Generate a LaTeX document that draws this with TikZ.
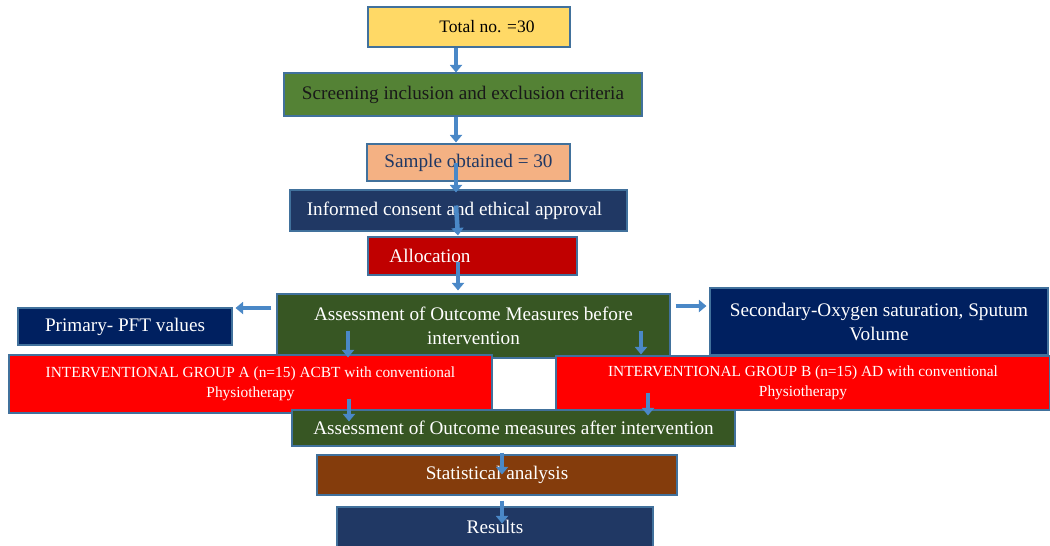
\documentclass[tikz,border=0pt]{standalone}
\usepackage{fontspec}
\setmainfont{Liberation Serif}
\usetikzlibrary{arrows.meta,calc}
\definecolor{cyellow}{HTML}{FFD966}
\definecolor{cgreen}{HTML}{548235}
\definecolor{csalmon}{HTML}{F4B183}
\definecolor{cnavy}{HTML}{203864}
\definecolor{cdnavy}{HTML}{002060}
\definecolor{cdred}{HTML}{C00000}
\definecolor{cdgreen}{HTML}{375623}
\definecolor{cred}{HTML}{FF0000}
\definecolor{cbrown}{HTML}{843C0C}
\definecolor{cborder}{HTML}{41719C}
\definecolor{carrow}{HTML}{4A88C7}
\definecolor{ctext}{HTML}{1F3864}
\tikzset{
  box/.style={draw=cborder, line width=1.1pt, rectangle, inner sep=0pt, align=center,
    font=\fontsize{19.2}{24}\selectfont, text=white},
  smallbox/.style={box, font=\fontsize{15.4}{20}\selectfont},
  barrow/.style={draw=carrow, line width=4.5pt, -{Triangle[width=12pt,length=7.5pt]}},
}
\begin{document}
\begin{tikzpicture}[x=1pt,y=-1pt]
\useasboundingbox (0,0) rectangle (1050,546);
\node[box, fill=cyellow, text=black, font=\fontsize{17.5}{20}\selectfont, minimum width=202pt, minimum height=40pt] (total) at (469,27) {\hspace*{36pt}Total no. =30};
\node[box, fill=cgreen, text=black!90, minimum width=358pt, minimum height=43pt] (screen) at (463,94.5) {Screening inclusion and exclusion criteria};
\node[box, fill=csalmon, text=ctext, minimum width=203pt, minimum height=37pt] (sample) at (468.5,162.5) {Sample obtained = 30};
\node[box, fill=cnavy, minimum width=337pt, minimum height=41pt] (consent) at (458.5,210.5) {Informed consent and ethical approval\hspace*{8pt}};
\node[box, fill=cdred, minimum width=209pt, minimum height=38pt] (alloc) at (472.5,256) {Allocation\hspace*{85pt}};
\node[box, fill=cdgreen, minimum width=393pt, minimum height=64pt] (before) at (473.5,326) {Assessment of Outcome Measures before\\intervention};
\node[box, fill=cdnavy, minimum width=214pt, minimum height=37pt] (primary) at (125,326.5) {Primary- PFT values};
\node[box, fill=cdnavy, minimum width=338pt, minimum height=67pt] (secondary) at (879,321.5) {Secondary-Oxygen saturation, Sputum\\Volume};
\node[smallbox, fill=cred, minimum width=483pt, minimum height=58pt] (grpA) at (250.5,384) {INTERVENTIONAL GROUP A (n=15) ACBT with conventional\\Physiotherapy};
\node[smallbox, fill=cred, minimum width=494pt, minimum height=54pt] (grpB) at (803,383) {INTERVENTIONAL GROUP B (n=15) AD with conventional\\Physiotherapy};
\node[box, fill=white, minimum width=64pt, minimum height=52pt] (gap) at (524,384) {};
\node[box, fill=cdgreen, minimum width=443pt, minimum height=36pt] (after) at (513.5,428) {Assessment of Outcome measures after intervention};
\node[box, fill=cbrown, minimum width=360pt, minimum height=40pt] (stat) at (497,475) {Statistical analysis};
\node[box, fill=cnavy, minimum width=316pt, minimum height=40pt] (results) at (495,527) {Results};

\draw[barrow] ([xshift=-13pt]total.south) -- ([xshift=-7pt]screen.north);
\draw[barrow] ([xshift=-7pt]screen.south) -- ([xshift=-12.5pt,yshift=1pt]sample.north);
\draw[barrow] ([xshift=-12.5pt]sample.center) -- ([xshift=-2.5pt,yshift=-3pt]consent.north);
\draw[barrow] ([xshift=-2.5pt,yshift=5pt]consent.center) -- ([xshift=-14.5pt,yshift=1pt]alloc.north);
\draw[barrow] ([xshift=-14.5pt,yshift=-6pt]alloc.center) -- ([xshift=-15.5pt,yshift=3pt]before.north);
\draw[barrow] ([xshift=-125.5pt,yshift=28pt]before.south) -- ([xshift=97.5pt,yshift=-3pt]grpA.north);
\draw[barrow] ([xshift=167.5pt,yshift=28pt]before.south) -- ([xshift=-162pt,yshift=1pt]grpB.north);
\draw[barrow] ([xshift=98.5pt,yshift=15pt]grpA.south) -- ([xshift=-164.5pt,yshift=-12pt]after.north);
\draw[barrow] ([xshift=-155pt,yshift=18pt]grpB.south) -- ([xshift=134.5pt,yshift=-6pt]after.north);
\draw[barrow] ([xshift=-11.5pt,yshift=-6pt]after.south) -- ([xshift=5pt,yshift=-20pt]stat.north);
\draw[barrow] ([xshift=5pt,yshift=-5pt]stat.south) -- ([xshift=7pt,yshift=-17pt]results.north);
\draw[barrow] ([xshift=-5pt,yshift=18pt]before.west) -- ([xshift=3pt,yshift=18.5pt]primary.east);
\draw[barrow] ([xshift=5pt,yshift=20pt]before.east) -- ([xshift=-3pt,yshift=15.5pt]secondary.west);
\end{tikzpicture}
\end{document}
